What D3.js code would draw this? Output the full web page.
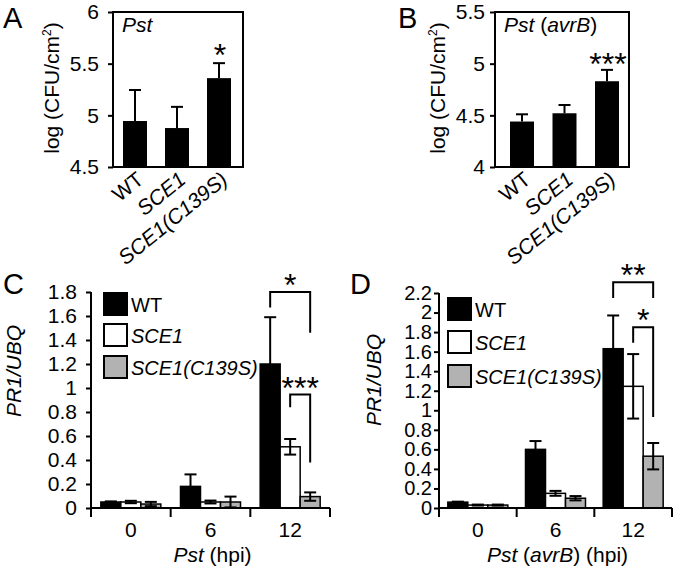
<!DOCTYPE html>
<html><head><meta charset="utf-8">
<script src="https://cdn.jsdelivr.net/npm/d3@7"></script>
<style>
body{margin:0;background:#fff;}
svg text{font-family:"Liberation Sans",Arial,sans-serif;fill:#000;}
</style></head>
<body><svg id="c" width="677" height="566"></svg>
<script>
// ---------- data ----------
const strains = ["WT", "SCE1", "SCE1(C139S)"];
const strainItalic = [false, true, true];
// Panel A (Pst)
const aMean = [4.945, 4.877, 5.36];
const aErr  = [0.30, 0.205, 0.145];
const aTicks = [4.5, 5, 5.5, 6];
// Panel B (Pst avrB)
const bMean = [4.44, 4.52, 4.83];
const bErr  = [0.07, 0.08, 0.11];
const bTicks = [4, 4.5, 5, 5.5];
// Panels C / D: time points
const hpi = ["0", "6", "12"];
const cWT    = [0.05, 0.18, 1.20];
const cWTe   = [0.005, 0.10, 0.39];
const cSCE1  = [0.05, 0.05, 0.51];
const cSCE1e = [0.01, 0.012, 0.065];
const cMut   = [0.033, 0.05, 0.095];
const cMute  = [0.018, 0.045, 0.035];
const cTicks = [0,0.2,0.4,0.6,0.8,1,1.2,1.4,1.6,1.8];
const dWT    = [0.06, 0.60, 1.63];
const dWTe   = [0.005, 0.085, 0.34];
const dSCE1  = [0.03, 0.15, 1.245];
const dSCE1e = [0.005, 0.025, 0.33];
const dMut   = [0.03, 0.10, 0.53];
const dMute  = [0.005, 0.022, 0.135];
const dTicks = [0,0.2,0.4,0.6,0.8,1,1.2,1.4,1.6,1.8,2,2.2];
// significance brackets: [fromSeries, toSeries, topValue, leftLegEnd, rightLegEnd, stars]
const cSig = [[0, 2, 1.80, 1.67, 1.46, "*"], [1, 2, 0.945, 0.84, 0.38, "***"]];
const dSig = [[0, 2, 2.31, 2.15, 2.15, "**"], [1, 2, 1.85, 1.69, 0.93, "*"]];
const fills = ["#000000", "#ffffff", "#b2b2b2"];

const svg = d3.select("#c");
const FONT = 20;

function letter(t, x, y){
  svg.append("text").attr("x", x).attr("y", y).attr("font-size", 29).text(t);
}

// ---------- panels A, B ----------
function panelAB(o){
  const g = svg.append("g");
  const y = d3.scaleLinear().domain(o.domain).range([167, 12]);
  const x = d3.scalePoint().domain(strains).range(o.centers);
  const bw = 24;
  g.selectAll("rect.bar").data(strains).join("rect")
    .attr("x", d => x(d) - bw/2).attr("width", bw)
    .attr("y", (d,i) => y(o.mean[i])).attr("height", (d,i) => y(o.domain[0]) - y(o.mean[i]))
    .attr("fill", "#000");
  // error bars
  const eb = g.selectAll("g.eb").data(strains).join("g");
  eb.append("line").attr("x1", d => x(d)).attr("x2", d => x(d))
    .attr("y1", (d,i) => y(o.mean[i])).attr("y2", (d,i) => y(o.mean[i] + o.err[i]))
    .attr("stroke", "#000").attr("stroke-width", 2);
  eb.append("line").attr("x1", d => x(d) - 6).attr("x2", d => x(d) + 6)
    .attr("y1", (d,i) => y(o.mean[i] + o.err[i])).attr("y2", (d,i) => y(o.mean[i] + o.err[i]))
    .attr("stroke", "#000").attr("stroke-width", 2);
  // frame
  g.append("rect").attr("x", o.left).attr("y", 12).attr("width", o.right - o.left).attr("height", 155)
    .attr("fill", "none").attr("stroke", "#000").attr("stroke-width", 2);
  // y axis
  const ax = g.append("g").attr("transform", `translate(${o.left},0)`)
    .call(d3.axisLeft(y).tickValues(o.ticks).tickSize(5).tickPadding(o.pad).tickFormat(d3.format("")));
  ax.select(".domain").remove();
  ax.selectAll("line").attr("stroke-width", 2);
  ax.selectAll("text").attr("font-size", 21).attr("font-family", "Liberation Sans, Arial, sans-serif");
  // x labels rotated
  g.selectAll("text.xl").data(strains).join("text")
    .attr("transform", d => `translate(${x(d) + 10},${182}) rotate(-39)`)
    .attr("text-anchor", "end").attr("font-size", 21)
    .attr("font-style", (d,i) => strainItalic[i] ? "italic" : "normal")
    .text(d => d);
  // stars
  g.append("text").attr("x", x(strains[2]) + 1).attr("y", y(o.mean[2] + o.err[2]) + o.starDy)
    .attr("text-anchor", "middle").attr("font-size", 32).text(o.star);
  // y title
  const t = g.append("text").attr("transform", `translate(${o.titleX},${88}) rotate(-90)`)
    .attr("text-anchor", "middle").attr("font-size", 21);
  t.append("tspan").text("log (CFU/cm");
  t.append("tspan").attr("font-size", 12).attr("dy", -8).text("2");
  t.append("tspan").attr("dy", 8).text(")");
  // inner label
  const il = g.append("text").attr("x", o.left + 9).attr("y", 32).attr("font-size", 21);
  o.inner.forEach(p => il.append("tspan").attr("font-style", p[1] ? "italic" : "normal").text(p[0]));
}

panelAB({domain: [4.5, 6], mean: aMean, err: aErr, ticks: aTicks, centers: [135, 219],
  left: 113, right: 243, pad: 9, titleX: 59, star: "*", starDy: 3, inner: [["Pst", true]]});
panelAB({domain: [4, 5.5], mean: bMean, err: bErr, ticks: bTicks, centers: [522, 607],
  left: 495, right: 629, pad: 5, titleX: 445, star: "***", starDy: 5, inner: [["Pst", true], [" (", false], ["avrB", true], [")", false]]});

letter("A", 3, 28);
letter("B", 398, 28);

// ---------- panels C, D ----------
function panelCD(o){
  const g = svg.append("g");
  const y = d3.scaleLinear().domain([0, o.ymax]).range([508, o.ytop]);
  const x0 = d3.scaleBand().domain(hpi).range([o.left, o.right]);
  const x1 = d3.scaleBand().domain(strains).range([0, 60]);
  const off = (x0.bandwidth() - 60) / 2;
  const series = strains.map((s, si) => ({s, si, mean: o.means[si], err: o.errs[si]}));
  const sg = g.selectAll("g.s").data(series).join("g");
  sg.selectAll("rect").data(d => hpi.map((h, i) => ({h, v: d.mean[i], e: d.err[i], si: d.si, s: d.s}))).join("rect")
    .attr("x", d => x0(d.h) + off + x1(d.s)).attr("width", x1.bandwidth())
    .attr("y", d => y(d.v)).attr("height", d => y(0) - y(d.v))
    .attr("fill", d => fills[d.si]).attr("stroke", "#000").attr("stroke-width", 1.5);
  // error bars
  const pts = [];
  series.forEach(d => hpi.forEach((h, i) => pts.push({cx: x0(h) + off + x1(d.s) + x1.bandwidth()/2, v: d.mean[i], e: d.err[i]})));
  const eg = g.selectAll("g.e").data(pts).join("g");
  eg.append("line").attr("x1", d => d.cx).attr("x2", d => d.cx)
    .attr("y1", d => y(d.v - d.e)).attr("y2", d => y(d.v + d.e)).attr("stroke", "#000").attr("stroke-width", 2);
  [1, -1].forEach(sgn => eg.append("line").attr("x1", d => d.cx - 6).attr("x2", d => d.cx + 6)
    .attr("y1", d => y(d.v + sgn*d.e)).attr("y2", d => y(d.v + sgn*d.e)).attr("stroke", "#000").attr("stroke-width", 2));
  // y axis
  const ax = g.append("g").attr("transform", `translate(${o.left},0)`)
    .call(d3.axisLeft(y).tickValues(o.ticks).tickSize(5).tickPadding(o.pad).tickFormat(d3.format("")));
  ax.select(".domain").attr("stroke-width", 2).attr("d", `M0,${y(0)}V${y(o.ymax)}`);
  ax.selectAll("line").attr("stroke-width", 2);
  ax.selectAll("text").attr("font-size", o.tickFont).attr("font-family", "Liberation Sans, Arial, sans-serif");
  // x axis
  g.append("line").attr("x1", o.left).attr("x2", o.right).attr("y1", y(0)).attr("y2", y(0))
    .attr("stroke", "#000").attr("stroke-width", 2);
  const bounds = hpi.map(h => x0(h)).concat([o.right]);
  g.selectAll("line.bt").data(bounds).join("line")
    .attr("x1", d => d).attr("x2", d => d).attr("y1", y(0)).attr("y2", y(0) + 9)
    .attr("stroke", "#000").attr("stroke-width", 2);
  g.selectAll("text.xl").data(hpi).join("text")
    .attr("x", d => x0(d) + x0.bandwidth()/2).attr("y", 537)
    .attr("text-anchor", "middle").attr("font-size", 21).text(d => d);
  const xt = g.append("text").attr("x", (o.left + o.right)/2 + 2).attr("y", 562)
    .attr("text-anchor", "middle").attr("font-size", 21);
  o.xtitle.forEach(p => xt.append("tspan").attr("font-style", p[1] ? "italic" : "normal").text(p[0]));
  // y title
  g.append("text").attr("transform", `translate(${o.titleX},${o.titleY}) rotate(-90)`)
    .attr("text-anchor", "middle").attr("font-size", 21).attr("font-style", "italic").text("PR1/UBQ");
  // legend
  const lg = g.selectAll("g.lg").data(strains).join("g")
    .attr("transform", (d, i) => `translate(${o.legX},${o.legY[i]})`);
  lg.append("rect").attr("width", 23).attr("height", 22)
    .attr("fill", (d, i) => fills[i]).attr("stroke", "#000").attr("stroke-width", 2);
  lg.append("text").attr("x", 27).attr("y", 19).attr("font-size", 20)
    .attr("font-style", (d, i) => strainItalic[i] ? "italic" : "normal").text(d => d);
  // significance
  const c12 = si => x0("12") + off + x1(strains[si]) + x1.bandwidth()/2;
  o.sig.forEach(s => {
    const xa = c12(s[0]), xb = c12(s[1]);
    g.append("path").attr("d", `M${xa},${y(s[3])}V${y(s[2])}H${xb}V${y(s[4])}`)
      .attr("fill", "none").attr("stroke", "#000").attr("stroke-width", 2);
    g.append("text").attr("x", (xa + xb)/2).attr("y", y(s[2]) + 4)
      .attr("text-anchor", "middle").attr("font-size", 32).text(s[5]);
  });
}

panelCD({ymax: 1.8, ytop: 292, left: 91, right: 330, ticks: cTicks, pad: 9, tickFont: 21,
  means: [cWT, cSCE1, cMut], errs: [cWTe, cSCE1e, cMute],
  xtitle: [["Pst", true], [" (hpi)", false]], titleX: 21, titleY: 371,
  legX: 104, legY: [293, 324, 356], sig: cSig});
panelCD({ymax: 2.2, ytop: 293, left: 439, right: 672, ticks: dTicks, pad: 2, tickFont: 20,
  means: [dWT, dSCE1, dMut], errs: [dWTe, dSCE1e, dMute],
  xtitle: [["Pst", true], [" (", false], ["avrB", true], [") (hpi)", false]], titleX: 381, titleY: 380,
  legX: 448, legY: [298, 331, 365], sig: dSig});

letter("C", 3, 294);
letter("D", 350, 294);
</script></body></html>
